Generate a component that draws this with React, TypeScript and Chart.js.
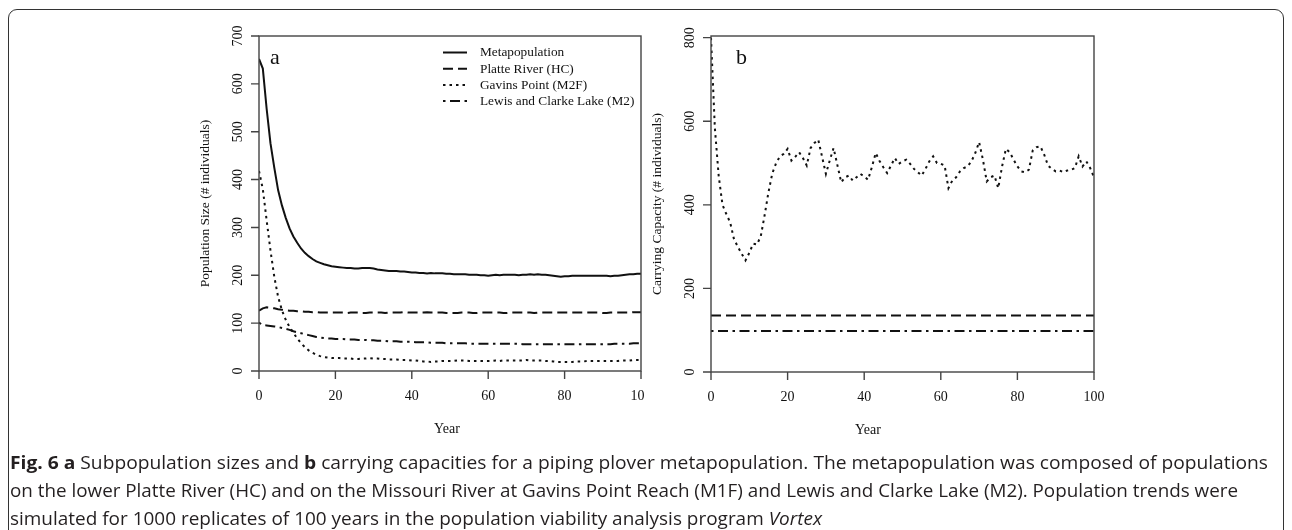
import React, { useEffect, useRef } from "react";
import { Chart, registerables } from "chart.js";

Chart.register(...registerables);

// ---------- data ----------
const YEARS = Array.from({ length: 101 }, (_, i) => i);

const X_TICKS = [0, 20, 40, 60, 80, 100];
const Y_TICKS_A = [0, 100, 200, 300, 400, 500, 600, 700];
const Y_TICKS_B = [0, 200, 400, 600, 800];

const SERIES_NAMES = [
  "Metapopulation",
  "Platte River (HC)",
  "Gavins Point (M2F)",
  "Lewis and Clarke Lake (M2)",
];

const META = [
  652, 632, 548, 476, 425, 378, 346, 320, 298, 281, 268,
  256, 247, 240, 234, 229, 226, 223, 221, 219, 218,
  217, 216, 215, 215, 214, 214, 215, 215, 215, 214,
  212, 211, 210, 209, 209, 209, 208, 208, 207, 206,
  206, 205, 205, 204, 205, 204, 204, 204, 203, 203,
  202, 202, 202, 202, 201, 201, 201, 200, 200, 199,
  200, 201, 200, 201, 201, 201, 201, 200, 201, 201,
  202, 201, 202, 201, 201, 200, 199, 198, 197, 198,
  198, 199, 199, 199, 199, 199, 199, 199, 199, 199,
  199, 198, 199, 199, 200, 201, 202, 202, 203, 203,
];

const PLATTE = [
  126, 131, 133, 132, 131, 129, 128, 127, 126, 126, 125,
  125, 124, 124, 123, 123, 122, 122, 122, 122, 122,
  122, 122, 121, 122, 122, 122, 121, 121, 122, 122,
  122, 122, 121, 122, 122, 122, 122, 123, 122, 122,
  122, 122, 122, 123, 122, 122, 122, 122, 121, 121,
  121, 121, 122, 122, 122, 121, 121, 122, 122, 122,
  122, 122, 122, 121, 121, 122, 122, 122, 122, 122,
  122, 121, 122, 122, 122, 122, 122, 122, 122, 122,
  122, 122, 122, 122, 122, 122, 122, 122, 122, 121,
  121, 122, 122, 122, 122, 122, 122, 123, 123, 123,
];

const GAVINS = [
  418, 380, 315, 252, 197, 155, 127, 107, 92, 80, 68,
  58, 50, 43, 38, 34, 31, 29, 28, 27, 27,
  27, 26, 26, 26, 25, 25, 26, 26, 27, 26,
  26, 25, 25, 24, 24, 24, 23, 23, 23, 22,
  22, 21, 20, 20, 19, 20, 20, 21, 21, 21,
  21, 22, 22, 22, 21, 21, 21, 21, 21, 21,
  21, 22, 21, 22, 22, 22, 22, 22, 22, 23,
  22, 22, 22, 22, 21, 21, 20, 19, 19, 19,
  19, 19, 20, 20, 20, 21, 21, 21, 21, 21,
  21, 21, 21, 21, 22, 22, 22, 23, 23, 23,
];

const LEWIS = [
  101, 96, 95, 94, 93, 92, 90, 88, 86, 83, 81,
  79, 77, 75, 73, 71, 70, 69, 68, 68, 67,
  67, 67, 66, 66, 66, 65, 65, 65, 64, 64,
  63, 63, 63, 62, 62, 62, 61, 61, 61, 61,
  60, 60, 60, 60, 59, 59, 59, 59, 58, 58,
  58, 58, 58, 58, 57, 57, 57, 57, 57, 57,
  57, 57, 57, 57, 57, 57, 57, 57, 56, 56,
  56, 56, 56, 56, 56, 56, 56, 56, 56, 56,
  56, 56, 56, 56, 56, 56, 56, 56, 56, 56,
  56, 56, 57, 57, 57, 57, 57, 58, 58, 58,
];

// carrying capacities (panel b)
const K_GAVINS = [
  800, 585, 470, 400, 378, 358, 318, 300, 283, 267, 285,
  307, 305, 325, 375, 430, 475, 500, 516, 522, 534,
  506, 515, 526, 512, 494, 536, 548, 556, 515, 474,
  506, 536, 495, 454, 466, 470, 458, 466, 474, 468,
  460, 490, 524, 505, 490, 476, 494, 512, 498, 504,
  508, 498, 486, 478, 470, 486, 504, 516, 500, 498,
  494, 440, 458, 466, 480, 488, 492, 504, 524, 550,
  508, 456, 466, 470, 440, 492, 534, 526, 508, 492,
  480, 478, 484, 530, 538, 540, 520, 494, 486, 480,
  482, 478, 482, 484, 488, 516, 492, 504, 488, 466,
];
const K_YEARS = [0, 100];
const K_PLATTE = [135, 135];
const K_LEWIS = [98, 98];

// ---------- style ----------
const SERIF = '"Liberation Serif", "Times New Roman", Times, serif';
const INK = "#111111";
const AXIS = "#444444";
const DASH = [10, 5];
const DOT = [2.5, 4];
const DASHDOT = [2.5, 4.5, 10, 4.5];
const STYLES = [
  { dash: [] as number[] },
  { dash: DASH },
  { dash: DOT },
  { dash: DASHDOT },
];

const pts = (xs: number[], ys: number[]) => ys.map((v, i) => ({ x: xs[i], y: v }));

const ds = (label: string, data: any[], dash: number[]) => ({
  label,
  data,
  borderColor: INK,
  borderWidth: 2,
  borderDash: dash,
  pointRadius: 0,
  tension: 0,
  fill: false,
});

// plugin drawing R-style axes, labels, legend
const rAxes = {
  id: "rAxes",
  afterDraw(chart: any, _args: any, o: any) {
    const { ctx, chartArea } = chart;
    const { left, top, right, bottom } = chartArea;
    const xs = chart.scales.x;
    const ys = chart.scales.y;
    ctx.save();
    ctx.strokeStyle = AXIS;
    ctx.lineWidth = 1.4;
    ctx.setLineDash([]);
    ctx.strokeRect(left, top, right - left, bottom - top);
    ctx.beginPath();
    for (const t of o.xTicks) {
      const px = xs.getPixelForValue(t);
      ctx.moveTo(px, bottom);
      ctx.lineTo(px, bottom + 8);
    }
    for (const t of o.yTicks) {
      const py = ys.getPixelForValue(t);
      ctx.moveTo(left, py);
      ctx.lineTo(left - 8, py);
    }
    ctx.stroke();

    ctx.fillStyle = INK;
    ctx.font = `14px ${SERIF}`;
    ctx.textAlign = "center";
    ctx.textBaseline = "middle";
    for (const t of o.xTicks) {
      ctx.fillText(String(t), xs.getPixelForValue(t), bottom + 25);
    }
    for (const t of o.yTicks) {
      const py = ys.getPixelForValue(t);
      ctx.save();
      ctx.translate(left - 21, py);
      ctx.rotate(-Math.PI / 2);
      ctx.fillText(String(t), 0, 0);
      ctx.restore();
    }
    // axis titles
    ctx.font = `14px ${SERIF}`;
    ctx.fillText(o.xTitle, left + o.xTitleDx, bottom + 58);
    ctx.font = `13.5px ${SERIF}`;
    ctx.save();
    ctx.translate(left - 54, (top + bottom) / 2);
    ctx.rotate(-Math.PI / 2);
    ctx.fillText(o.yTitle, 0, 0);
    ctx.restore();
    // panel letter
    ctx.font = `22px ${SERIF}`;
    ctx.textAlign = "left";
    ctx.fillText(o.letter, left + o.letterDx, top + 22);

    // legend
    if (o.legend) {
      ctx.font = `13.3px ${SERIF}`;
      ctx.textAlign = "left";
      o.legend.forEach((name: string, i: number) => {
        const yy = top + 16.5 + i * 16.2;
        ctx.strokeStyle = INK;
        ctx.lineWidth = 2;
        ctx.setLineDash(STYLES[i].dash);
        ctx.beginPath();
        ctx.moveTo(right - 198, yy);
        ctx.lineTo(right - 174, yy);
        ctx.stroke();
        ctx.setLineDash([]);
        ctx.fillText(name, right - 161, yy + 0.5);
      });
    }
    ctx.restore();
  },
};

function makeOptions(yMax: number, pad: any, plug: any) {
  return {
    responsive: false,
    animation: false as const,
    layout: { padding: pad },
    plugins: {
      legend: { display: false },
      tooltip: { enabled: false },
      rAxes: plug,
    },
    scales: {
      x: { type: "linear" as const, min: 0, max: 100, display: false },
      y: { type: "linear" as const, min: 0, max: yMax, display: false },
    },
  };
}

// right ends of the three caption lines
const CAPTION_ENDS = [1268, 1238, 822];
const CAPTION_LEFT = 10;

export default function App() {
  const refA = useRef<HTMLCanvasElement>(null);
  const refB = useRef<HTMLCanvasElement>(null);
  const capRef = useRef<HTMLDivElement>(null);

  useEffect(() => {
    const a = new Chart(refA.current!, {
      type: "line",
      data: {
        datasets: [
          ds(SERIES_NAMES[0], pts(YEARS, META), STYLES[0].dash),
          ds(SERIES_NAMES[1], pts(YEARS, PLATTE), STYLES[1].dash),
          ds(SERIES_NAMES[2], pts(YEARS, GAVINS), STYLES[2].dash),
          ds(SERIES_NAMES[3], pts(YEARS, LEWIS), STYLES[3].dash),
        ],
      },
      options: makeOptions(
        700,
        { left: 259, top: 36, right: 4, bottom: 79 },
        {
          xTicks: X_TICKS,
          yTicks: Y_TICKS_A,
          xTitle: "Year",
          xTitleDx: 188,
          yTitle: "Population Size (# individuals)",
          letter: "a",
          letterDx: 11,
          legend: SERIES_NAMES,
        }
      ) as any,
      plugins: [rAxes],
    });
    const b = new Chart(refB.current!, {
      type: "line",
      data: {
        datasets: [
          ds(SERIES_NAMES[1], pts(K_YEARS, K_PLATTE), STYLES[1].dash),
          ds(SERIES_NAMES[2], pts(YEARS, K_GAVINS), STYLES[2].dash),
          ds(SERIES_NAMES[3], pts(K_YEARS, K_LEWIS), STYLES[3].dash),
        ],
      },
      options: makeOptions(
        804,
        { left: 66, top: 36, right: 198, bottom: 78 },
        {
          xTicks: X_TICKS,
          yTicks: Y_TICKS_B,
          xTitle: "Year",
          xTitleDx: 157,
          yTitle: "Carrying Capacity (# individuals)",
          letter: "b",
          letterDx: 25,
          legend: null,
        }
      ) as any,
      plugins: [rAxes],
    });

    // fit caption lines to their widths (condensed look)
    const cap = capRef.current;
    if (cap) {
      const lines = Array.from(cap.querySelectorAll("[data-line]")) as HTMLElement[];
      lines.forEach((el, i) => {
        const w = el.getBoundingClientRect().width;
        const s = (CAPTION_ENDS[i] - CAPTION_LEFT) / w;
        el.style.transform = `scaleX(${s})`;
      });
    }
    return () => {
      a.destroy();
      b.destroy();
    };
  }, []);

  const capFont: React.CSSProperties = {
    fontFamily: '"Open Sans", "Noto Sans", sans-serif',
    fontSize: 18.5,
    color: "#231f20",
    whiteSpace: "nowrap",
    lineHeight: "28px",
    height: 28,
    display: "inline-block",
    transformOrigin: "left center",
  };

  return (
    <div
      style={{
        position: "absolute",
        left: 0,
        top: 0,
        width: 1292,
        height: 530,
        background: "#fff",
        overflow: "hidden",
      }}
    >
      <div
        style={{
          position: "absolute",
          left: 8,
          top: 9,
          width: 1276,
          height: 560,
          border: "1.5px solid #333",
          borderRadius: 9,
          boxSizing: "border-box",
        }}
      />
      <canvas
        ref={refA}
        width={645}
        height={450}
        style={{ position: "absolute", left: 0, top: 0 }}
      />
      <canvas
        ref={refB}
        width={647}
        height={450}
        style={{ position: "absolute", left: 645, top: 0 }}
      />
      <div
        ref={capRef}
        style={{ position: "absolute", left: CAPTION_LEFT, top: 448, width: 1280 }}
      >
        <div data-line="1" style={capFont}>
          <b>Fig. 6 a</b> Subpopulation sizes and <b>b</b> carrying capacities for a piping plover metapopulation. The metapopulation was composed of populations
        </div>
        <br />
        <div data-line="2" style={capFont}>
          on the lower Platte River (HC) and on the Missouri River at Gavins Point Reach (M1F) and Lewis and Clarke Lake (M2). Population trends were
        </div>
        <br />
        <div data-line="3" style={capFont}>
          simulated for 1000 replicates of 100 years in the population viability analysis program <i>Vortex</i>
        </div>
      </div>
    </div>
  );
}
